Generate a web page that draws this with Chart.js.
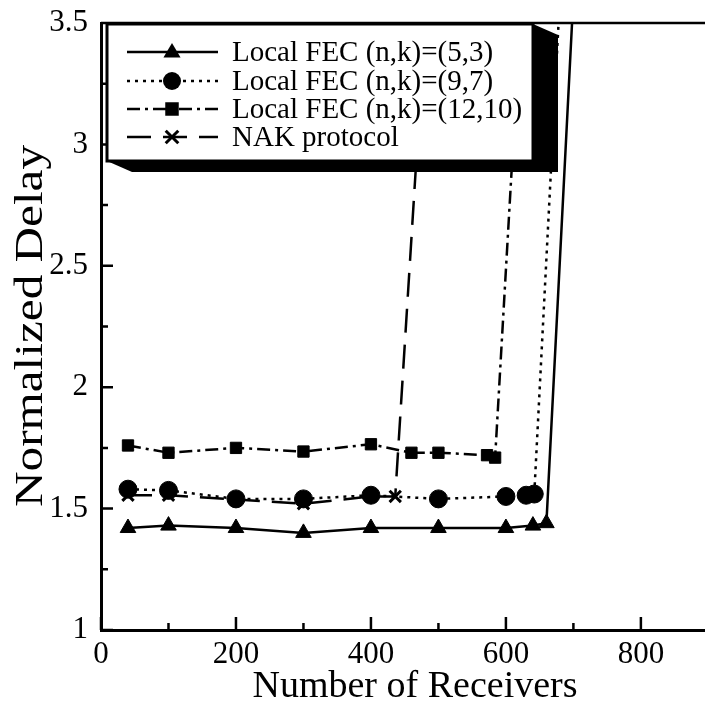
<!DOCTYPE html>
<html>
<head>
<meta charset="utf-8">
<script src="https://cdn.jsdelivr.net/npm/chart.js@4.4.0/dist/chart.umd.min.js"></script>
<style>
  html, body { margin: 0; padding: 0; background: #fff; }
  #wrap { width: 705px; height: 707px; }
</style>
</head>
<body>
<div id="wrap"><canvas id="c"></canvas></div>
<script>
// values
const fec53X = [40, 100, 200, 300, 400, 500, 600, 640, 660, 698]
const fec53Y = [1.42, 1.43, 1.42, 1.40, 1.42, 1.42, 1.42, 1.43, 1.44, 3.5]
const fec97X = [40, 100, 200, 300, 400, 500, 600, 630, 642, 678]
const fec97Y = [1.58, 1.575, 1.54, 1.54, 1.555, 1.54, 1.55, 1.555, 1.56, 3.5]
const fec1210X = [40, 100, 200, 300, 400, 460, 500, 572, 584, 621]
const fec1210Y = [1.76, 1.73, 1.75, 1.735, 1.765, 1.73, 1.73, 1.72, 1.71, 3.5]
const nakX = [40, 100, 300, 400, 436, 480]
const nakY = [1.555, 1.555, 1.52, 1.55, 1.55, 3.5]

const seriesNames = ['Local FEC (n,k)=(5,3)', 'Local FEC (n,k)=(9,7)', 'Local FEC (n,k)=(12,10)', 'NAK protocol']
const xTicks = [0, 200, 400, 600, 800]
const xMinorTicks = [100, 300, 500, 700]
const yTicks = [1, 1.5, 2, 2.5, 3, 3.5]
const yMinorTicks = [1.25, 1.75, 2.25, 2.75, 3.25]
const xTitle = 'Number of Receivers'
const yTitle = 'Normalized Delay'

const serif = "'Liberation Serif', 'Times New Roman', serif"

const toPoints = (xs, ys) => xs.map((x, i) => ({ x: x, y: ys[i] }))

// last point of each series is the spike to the top, drawn without a marker
const radius = r => ctx => ctx.dataIndex === ctx.dataset.data.length - 1 ? 0 : r

const makeSet = (label, xs, ys, style, r, dash) => ({
  label: label,
  data: toPoints(xs, ys),
  borderColor: '#000',
  backgroundColor: '#000',
  borderWidth: 2.5,
  borderDash: dash,
  pointStyle: style,
  pointRadius: radius(r),
  pointBorderWidth: style === 'crossRot' ? 3 : 1,
  tension: 0
})

function drawMarker(ctx, style, x, y, r) {
  ctx.save()
  ctx.fillStyle = '#000'
  ctx.strokeStyle = '#000'
  ctx.setLineDash([])
  ctx.beginPath()
  if (style === 'triangle') {
    ctx.moveTo(x, y - r)
    ctx.lineTo(x + r * 0.95, y + r * 0.6)
    ctx.lineTo(x - r * 0.95, y + r * 0.6)
    ctx.closePath()
    ctx.fill()
  } else if (style === 'circle') {
    ctx.arc(x, y, r, 0, Math.PI * 2)
    ctx.fill()
  } else if (style === 'rect') {
    ctx.rect(x - r * 0.75, y - r * 0.75, r * 1.5, r * 1.5)
    ctx.fill()
  } else {
    ctx.lineWidth = 3
    const d = r * 0.7
    ctx.moveTo(x - d, y - d); ctx.lineTo(x + d, y + d)
    ctx.moveTo(x + d, y - d); ctx.lineTo(x - d, y + d)
    ctx.stroke()
  }
  ctx.restore()
}

const framePlugin = {
  id: 'frame',
  afterDatasetsDraw(chart) {
    const ctx = chart.ctx
    const area = chart.chartArea
    const xs = chart.scales.x
    const ys = chart.scales.y
    ctx.save()
    ctx.strokeStyle = '#000'
    ctx.lineWidth = 2.5
    ctx.setLineDash([])
    ctx.beginPath()
    ctx.moveTo(area.left, area.top)
    ctx.lineTo(area.right, area.top)
    // inward ticks
    xTicks.forEach(v => { const p = xs.getPixelForValue(v); ctx.moveTo(p, area.bottom); ctx.lineTo(p, area.bottom - 13) })
    xMinorTicks.forEach(v => { const p = xs.getPixelForValue(v); ctx.moveTo(p, area.bottom); ctx.lineTo(p, area.bottom - 7) })
    yTicks.forEach(v => { const p = ys.getPixelForValue(v); ctx.moveTo(area.left, p); ctx.lineTo(area.left + 12, p) })
    yMinorTicks.forEach(v => { const p = ys.getPixelForValue(v); ctx.moveTo(area.left, p); ctx.lineTo(area.left + 7, p) })
    ctx.stroke()

    // legend box with offset shadow
    const bx = 107, by = 24, bw = 426, bh = 137, dx = 25, dy = 11
    ctx.fillStyle = '#000'
    ctx.beginPath()
    ctx.moveTo(bx + bw, by)
    ctx.lineTo(bx + bw + dx, by + dy)
    ctx.lineTo(bx + bw + dx, by + bh + dy)
    ctx.lineTo(bx + dx, by + bh + dy)
    ctx.lineTo(bx, by + bh)
    ctx.closePath()
    ctx.fill()
    ctx.fillStyle = '#fff'
    ctx.fillRect(bx, by, bw, bh)
    ctx.lineWidth = 3
    ctx.strokeRect(bx, by, bw, bh)

    const rows = [52, 81, 109, 137]
    ctx.font = '29px ' + serif
    ctx.textBaseline = 'middle'
    ctx.textAlign = 'left'
    chart.data.datasets.forEach((ds, i) => {
      const y = rows[i]
      ctx.save()
      ctx.lineWidth = ds.borderWidth
      ctx.setLineDash(ds.borderDash || [])
      ctx.beginPath()
      ctx.moveTo(127, y)
      ctx.lineTo(218, y)
      ctx.stroke()
      ctx.restore()
      drawMarker(ctx, ds.pointStyle, 172, y, 9)
      ctx.fillStyle = '#000'
      ctx.fillText(ds.label, 232, y + 1)
    })

    ctx.fillStyle = '#000'
    // x axis title
    ctx.font = '38px ' + serif
    ctx.textAlign = 'center'
    ctx.textBaseline = 'alphabetic'
    ctx.fillText(xTitle, 415, 697)

    // y axis title, stretched along its length like the scan
    ctx.save()
    ctx.font = '40px ' + serif
    const w = ctx.measureText(yTitle).width
    ctx.translate(42, 326)
    ctx.rotate(-Math.PI / 2)
    ctx.scale(362 / w, 1)
    ctx.textAlign = 'center'
    ctx.textBaseline = 'alphabetic'
    ctx.fillText(yTitle, 0, 0)
    ctx.restore()
    ctx.restore()
  }
}

new Chart(document.getElementById('c'), {
  type: 'line',
  data: {
    datasets: [
      makeSet(seriesNames[0], fec53X, fec53Y, 'triangle', 9, []),
      makeSet(seriesNames[1], fec97X, fec97Y, 'circle', 9, [3, 5]),
      makeSet(seriesNames[2], fec1210X, fec1210Y, 'rect', 8, [13, 5, 3, 5]),
      makeSet(seriesNames[3], nakX, nakY, 'crossRot', 8, [24, 12])
    ]
  },
  options: {
    responsive: true,
    maintainAspectRatio: false,
    animation: false,
    layout: { autoPadding: false, padding: { top: 23, right: 0, left: 0, bottom: 0 } },
    plugins: { legend: { display: false }, tooltip: { enabled: false } },
    scales: {
      x: {
        type: 'linear',
        min: 0,
        max: 895,
        afterBuildTicks: s => { s.ticks = xTicks.map(v => ({ value: v })) },
        afterFit: s => { s.height = 77; s.paddingLeft = 0; s.paddingRight = 0 },
        grid: { display: false },
        border: { display: true, color: '#000', width: 3 },
        ticks: { color: '#000', font: { family: serif, size: 31 }, padding: -2, maxRotation: 0, callback: v => String(v) }
      },
      y: {
        type: 'linear',
        min: 1,
        max: 3.5,
        afterBuildTicks: s => { s.ticks = yTicks.map(v => ({ value: v })) },
        afterFit: s => { s.width = 101; s.paddingTop = 0; s.paddingBottom = 0 },
        grid: { display: false },
        border: { display: true, color: '#000', width: 3 },
        ticks: { color: '#000', font: { family: serif, size: 31 }, padding: 5, callback: v => String(v) }
      }
    }
  },
  plugins: [framePlugin]
})
</script>
</body>
</html>
